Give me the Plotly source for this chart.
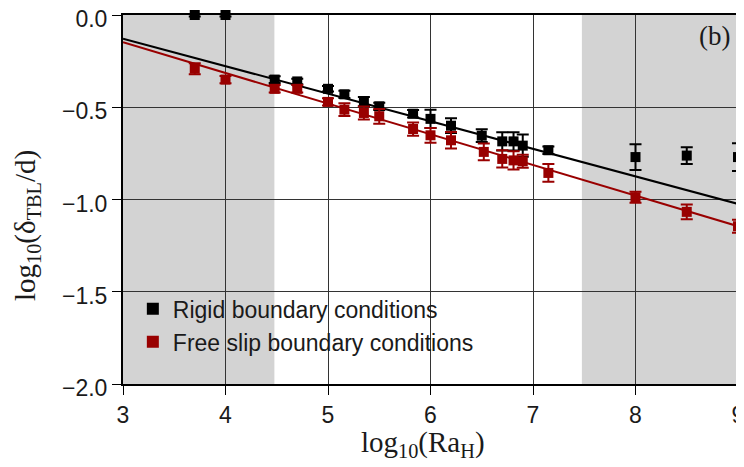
import plotly.graph_objects as go

# ---- data ----
rigid_x = [3.70, 4.00, 4.48, 4.70, 5.00, 5.16, 5.35, 5.50, 5.83, 6.00, 6.20, 6.50, 6.70, 6.81, 6.90, 7.15, 8.00, 8.50, 9.00]
rigid_y = [0.000, 0.000, -0.350, -0.360, -0.400, -0.430, -0.470, -0.495, -0.535, -0.563, -0.600, -0.654, -0.685, -0.685, -0.708, -0.733, -0.770, -0.762, -0.770]
rigid_err = [0.008, 0.008, 0.018, 0.015, 0.015, 0.02, 0.025, 0.02, 0.02, 0.05, 0.04, 0.035, 0.05, 0.05, 0.06, 0.02, 0.07, 0.045, 0.075]

free_x = [3.70, 4.00, 4.48, 4.70, 5.00, 5.16, 5.35, 5.50, 5.83, 6.00, 6.20, 6.52, 6.70, 6.81, 6.90, 7.15, 8.00, 8.50, 9.00]
free_y = [-0.291, -0.350, -0.400, -0.400, -0.471, -0.513, -0.531, -0.549, -0.618, -0.652, -0.679, -0.742, -0.780, -0.788, -0.793, -0.856, -0.988, -1.067, -1.145]
free_err = [0.03, 0.02, 0.02, 0.02, 0.02, 0.035, 0.035, 0.04, 0.036, 0.04, 0.045, 0.045, 0.047, 0.05, 0.035, 0.048, 0.03, 0.04, 0.035]

fit_x = [3.0, 9.0]
rigid_fit = [-0.128, -1.024]
free_fit = [-0.148, -1.145]

shade_ranges = [(3.0, 4.477), (7.477, 9.0)]

BLACK = "#000000"
RED = "#990000"
SERIF = "Liberation Serif, Times New Roman, serif"
SANS = "Liberation Sans, Arial, sans-serif"

fig = go.Figure()

for x0, x1 in shade_ranges:
    fig.add_shape(type="rect", xref="x", yref="paper", x0=x0, x1=x1, y0=0, y1=1,
                  fillcolor="#d3d3d3", line=dict(width=0), layer="below")

fig.add_trace(go.Scatter(x=fit_x, y=rigid_fit, mode="lines", line=dict(color=BLACK, width=2),
                         showlegend=False, hoverinfo="skip"))
fig.add_trace(go.Scatter(x=fit_x, y=free_fit, mode="lines", line=dict(color=RED, width=2),
                         showlegend=False, hoverinfo="skip"))

fig.add_trace(go.Scatter(x=rigid_x, y=rigid_y, mode="markers", name="Rigid boundary conditions",
                         marker=dict(symbol="square", size=10, color=BLACK),
                         error_y=dict(type="data", array=rigid_err, color=BLACK, thickness=2, width=6),
                         cliponaxis=False))
fig.add_trace(go.Scatter(x=free_x, y=free_y, mode="markers", name="Free slip boundary conditions",
                         marker=dict(symbol="square", size=10, color=RED),
                         error_y=dict(type="data", array=free_err, color=RED, thickness=2, width=6),
                         cliponaxis=False))

axis_common = dict(showline=True, linecolor="black", linewidth=2, mirror=True,
                   showgrid=True, gridcolor="#333333", gridwidth=1,
                   ticks="outside", ticklen=9, tickcolor="black", tickwidth=1,
                   zeroline=False, automargin=False, ticklabeloverflow="allow",
                   tickfont=dict(family=SANS, size=23, color="#1a1a1a"))

fig.update_xaxes(range=[3, 9], dtick=1, tick0=3, **axis_common)
fig.update_yaxes(range=[-2, 0], dtick=0.5, tickformat=".1f", ticklabelshift=4, **axis_common)

fig.add_annotation(x=-0.155, y=0.43, xref="paper", yref="paper",
                   text="log<sub>10</sub>(δ<sub>TBL</sub>/d)", showarrow=False, textangle=-90,
                   xanchor="center", yanchor="middle",
                   font=dict(family=SERIF, size=29, color="#1a1a1a"))
fig.add_annotation(x=0.487, y=-0.162, xref="paper", yref="paper",
                   text="log<sub>10</sub>(Ra<sub>H</sub>)", showarrow=False,
                   xanchor="center", yanchor="middle",
                   font=dict(family=SERIF, size=29, color="#1a1a1a"))

fig.add_annotation(x=0.99, y=0.99, xref="paper", yref="paper", text="(b)", showarrow=False,
                   xanchor="right", yanchor="top",
                   font=dict(family=SERIF, size=27, color="#1a1a1a"))

fig.update_layout(
    width=736, height=459,
    margin=dict(l=115, r=6, t=7, b=83),
    plot_bgcolor="white", paper_bgcolor="white",
    legend=dict(x=0.016, y=0.262, xanchor="left", yanchor="top", bgcolor="rgba(0,0,0,0)",
                font=dict(family=SANS, size=23, color="#1a1a1a"),
                itemsizing="constant", tracegroupgap=0),
)

fig.write_html("out.html")
